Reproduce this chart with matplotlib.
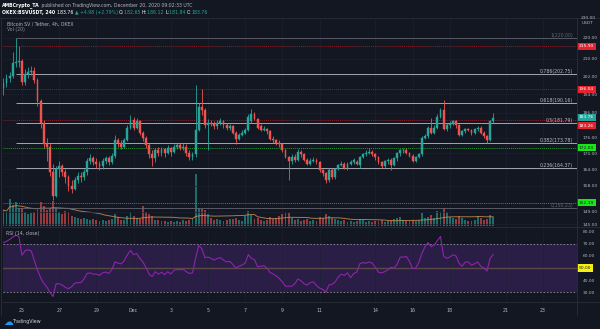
import matplotlib
matplotlib.use("Agg")
import matplotlib.pyplot as plt
import matplotlib.dates as mdates
import matplotlib.transforms as mtransforms
from matplotlib.lines import Line2D
from matplotlib.ticker import FixedLocator, FixedFormatter, NullLocator
import numpy as np
import pandas as pd

# ---- donnees : BSV/USDT 4h OKEX, 24 nov -> 20 dec 2020 ----
opens = [196.5, 199, 201, 202, 208, 208.5, 209, 199.5, 203, 204,
         204.5, 200, 191, 182, 173.5, 172.5, 163, 154.5, 164, 165,
         163, 161, 158, 157, 160, 161.5, 161, 163, 167, 168,
         166.5, 166, 165, 167, 168, 166.5, 169, 175, 174, 172.5,
         175, 180, 183, 180, 182.5, 178, 176, 173, 169.5, 168,
         171, 170, 171.5, 170, 172, 170.5, 172.5, 173, 172, 172.5,
         170, 168.5, 169.5, 179, 188.5, 187, 181, 182, 181.5, 180.5,
         182, 182.5, 181, 180, 180.5, 178, 175.5, 177, 178, 179,
         182.5, 185.5, 183.5, 180.5, 179, 179.5, 178.5, 175.5, 175, 174,
         173.5, 171, 168.5, 167, 168.5, 167.5, 170.5, 169.5, 167.5, 166,
         167, 167.5, 166.5, 163.5, 162.5, 160, 163.5, 161, 164, 165.5,
         166, 164.5, 166, 166.5, 166.5, 165.5, 168.5, 169.5, 170, 170.5,
         169.5, 168.5, 166.5, 165, 167, 167.5, 165.5, 168, 170, 171,
         171.3, 170, 169, 167, 168.5, 169.5, 176, 176.5, 180, 178,
         180, 184.5, 187, 179.5, 181, 181.5, 182.5, 181, 177, 178.5,
         179.5, 179, 178, 179.5, 180, 178, 176.5, 175, 182.65]
highs = [201, 203, 204, 213, 220, 216, 210, 205, 206, 206.5,
         206, 201, 192, 183, 176, 174, 166, 165, 167, 166,
         164, 162, 160, 161, 163, 163, 164, 168, 169.5, 169,
         168, 167, 168, 169, 169, 170, 177, 176, 175, 176,
         181, 185, 184.5, 184, 183, 178.5, 176.5, 174, 171, 172,
         172.5, 172.5, 172, 173, 172.5, 173.5, 174, 174, 174, 173.5,
         171, 170.5, 198, 190, 196, 188, 183.5, 183, 182.5, 183,
         184, 183, 182, 181.5, 181, 178.5, 178, 179, 180, 185.5,
         187.5, 186.5, 184, 181.5, 180.5, 180, 179, 176.5, 175.5, 175,
         174, 171.5, 169, 169.5, 169.5, 171.5, 171, 170, 168, 168,
         168.5, 168, 167, 164, 163, 164.5, 164.5, 164.5, 166, 167,
         166.5, 166.5, 167.5, 168, 167.5, 169, 170, 171, 172, 171,
         170, 169, 167, 167.5, 168, 168, 168.5, 170.5, 171.5, 172,
         172, 170.5, 169.5, 169, 170, 176.5, 177.5, 180.5, 184, 181,
         185.5, 188, 191.5, 182, 182.5, 183, 183, 181.5, 179, 180,
         180, 179.5, 180, 180.5, 180.5, 178.5, 177, 183, 186.12]
lows = [193.5, 197, 199.5, 201, 206, 206, 198, 198, 201, 202.5,
        199, 189, 180, 172, 167, 161.5, 153, 154, 161, 161.5,
        159, 156, 155.5, 156.5, 159, 159.5, 160, 162, 166, 165.5,
        164.5, 163.5, 164, 166, 165.5, 166, 168, 172.5, 171.5, 172,
        174.5, 179.5, 179, 179.5, 177, 174.5, 172, 168, 165, 166.5,
        169, 169, 168.5, 169.5, 169, 170, 171.5, 171, 171, 169,
        167.5, 167.5, 168.5, 178.5, 185, 180, 171, 180.5, 179.5, 179.5,
        181, 180, 179, 179, 177.5, 173.5, 175, 176.5, 177.5, 178.5,
        182, 183, 179.5, 178.5, 178.5, 177.5, 175, 174, 173, 172.5,
        170.5, 168, 160, 166, 166.5, 167, 168.5, 167, 165.5, 165.5,
        166.5, 166, 163, 161.5, 159, 159.5, 160.5, 160.5, 163.5, 165,
        164, 163.5, 165.5, 166, 165.5, 164.5, 168, 169, 169.5, 169,
        167.5, 166, 164.5, 164.5, 166, 163.5, 165, 167, 169, 170,
        169.5, 168.5, 166.5, 166.5, 168, 169, 175.5, 176, 177.5, 177.5,
        179.5, 184, 179, 178.5, 180, 181, 180, 176.5, 176.5, 178,
        178.5, 177, 177.5, 178.5, 177.5, 176, 174, 174.5, 181.84]
closes = [199, 201, 202, 208, 208.5, 209, 199.5, 203, 204, 204.5,
          200, 191, 182, 173.5, 172.5, 163, 154.5, 164, 165, 163,
          161, 158, 157, 160, 161.5, 161, 163, 167, 168, 166.5,
          166, 165, 167, 168, 166.5, 169, 175, 174, 172.5, 175,
          180, 183, 180, 182.5, 178, 176, 173, 169.5, 168, 171,
          170, 171.5, 170, 172, 170.5, 172.5, 173, 172, 172.5, 170,
          168.5, 169.5, 179, 188.5, 187, 181, 182, 181.5, 180.5, 182,
          182.5, 181, 180, 180.5, 178, 175.5, 177, 178, 179, 184.5,
          185.5, 183.5, 180, 179, 179.5, 178.5, 175.5, 175, 174, 173.5,
          171, 168.5, 167, 168.5, 167.5, 170.5, 169.5, 167.5, 166, 167,
          167.5, 166.5, 163.5, 162.5, 160, 163.5, 161, 164, 165.5, 166,
          164.5, 166, 166.5, 167.5, 166, 168.5, 169.5, 170, 170.5, 169.5,
          168.5, 166.5, 165, 167, 167.5, 165.5, 168, 170, 171, 171.3,
          170, 169, 167, 168.5, 169.5, 176, 176.5, 180, 178, 180,
          184.5, 187, 179.5, 181, 181.5, 182.5, 181, 177, 178.5, 179.5,
          179, 178, 179.5, 180, 178, 176.5, 175, 182.6, 183.76]
volumes = [16, 14, 27, 21, 24, 18, 18, 14, 12, 13,
           14, 16, 24, 20, 16, 18, 25, 18, 14, 12,
           15, 14, 10, 9, 8, 7, 8, 7, 6, 7,
           6, 5, 6, 5, 6, 7, 12, 9, 6, 6,
           10, 14, 10, 8, 7, 20, 14, 12, 10, 6,
           6, 5, 5, 4, 5, 4, 5, 4, 6, 5,
           6, 7, 52, 18, 17, 16, 12, 8, 6, 7,
           6, 5, 6, 7, 7, 8, 6, 5, 10, 15,
           11, 7, 8, 6, 5, 6, 9, 7, 8, 10,
           12, 13, 13, 8, 6, 7, 5, 6, 7, 5,
           6, 5, 9, 8, 12, 10, 8, 7, 6, 5,
           6, 4, 5, 4, 5, 7, 6, 4, 5, 4,
           5, 5, 6, 4, 5, 6, 7, 8, 9, 6,
           5, 5, 6, 5, 6, 13, 8, 9, 11, 8,
           15, 14, 18, 14, 9, 8, 7, 10, 8, 6,
           5, 5, 6, 10, 8, 6, 7, 11, 9]
rsi = [71, 72, 73.5, 75.5, 77, 76, 60.5, 64.4, 65, 64,
       56, 48.5, 42, 37.5, 34.5, 30, 26.5, 37, 37, 36,
       34, 33, 34.5, 37.5, 38, 38, 41, 45.5, 46, 45,
       45, 44, 46, 46.7, 45.5, 48.7, 55, 54, 53.5, 56,
       61, 64.5, 61, 62, 58, 55, 50.5, 45, 43, 47,
       45, 46.5, 44.5, 47, 45, 48, 49, 48.5, 49, 47,
       45.5, 46, 58, 68.5, 66, 58.5, 59, 58, 56.5, 58,
       58.5, 56.5, 55, 55.5, 53, 50, 51.5, 52.5, 54, 61,
       58, 57, 51, 51.5, 52, 50, 46.5, 45, 43.5, 41.4,
       38.5, 35, 35, 35, 37, 41, 39.5, 37, 36, 38,
       38.6, 35.5, 33.5, 32.5, 30, 36, 36.5, 38.5, 42.5, 45,
       44, 46, 42, 45.4, 46.7, 53.5, 54.5, 54, 55, 54,
       50.5, 46.5, 46, 47, 48.5, 50.5, 50, 53, 59, 59,
       59.5, 55.5, 49.5, 50, 54.5, 62, 67.5, 71, 67.5, 69,
       72.5, 76, 60, 58, 59, 61, 60, 54, 51.5, 55,
       54.9, 52.3, 53.5, 55, 51.5, 50, 47.5, 58, 61]

fib_ratios = ["1", "0.786", "0.618", "0.5", "0.382", "0.236", "0"]
fib_prices = [220.00, 202.75, 190.16, 181.79, 173.78, 164.37, 150.23]
red_levels = [215.90, 196.04, 183.26]
green_levels = [172.03, 152.19]
last_price = 183.76

price_ticks = [220, 210, 202, 194, 186, 176, 170, 164, 158, 149, 145]
rsi_ticks = [80, 70, 60, 40, 30]
date_ticks = ["2020-11-25", "2020-11-27", "2020-11-29", "2020-12-01", "2020-12-03",
              "2020-12-05", "2020-12-07", "2020-12-09", "2020-12-11", "2020-12-14",
              "2020-12-16", "2020-12-18", "2020-12-21", "2020-12-23"]
date_labels = ["25", "27", "29", "Dec", "3", "5", "7", "9", "11", "14", "16", "18", "21", "23"]

# ---- couleurs ----
BG = "#131722"
UP = "#26a69a"
DOWN = "#ef5350"
TXT = "#b2b5be"
GRID = "#1c2130"
SEP = "#2a2e39"

W, H = 600, 329
def rect(x0, y0, x1, y1):
    return [x0 / W, 1 - y1 / H, (x1 - x0) / W, (y1 - y0) / H]

times = pd.date_range("2020-11-24 00:00", periods=len(closes), freq="4h")
x = mdates.date2num(times)
bar_w = 4 / 24 * 0.62
o = np.array(opens); c = np.array(closes)
cols = [UP if cc >= oo else DOWN for oo, cc in zip(o, c)]
xmin = mdates.date2num(pd.Timestamp("2020-11-23 23:30"))
xmax = mdates.date2num(pd.Timestamp("2020-12-24 20:10"))

fig = plt.figure(figsize=(6, 3.29), dpi=100, facecolor=BG)

# volume (dessous)
axv = fig.add_axes(rect(3, 19, 577, 226), facecolor=BG)
axv.bar(x, volumes, width=bar_w, color=cols, alpha=0.6, linewidth=0)
vol_ma = pd.Series(volumes).rolling(20, min_periods=1).mean()
axv.plot(x, vol_ma, color="#c28a52", lw=0.7, alpha=0.85)
axv.set_ylim(0, 207)
axv.set_xlim(xmin, xmax)
axv.axis("off")

# prix
ax = fig.add_axes(rect(3, 19, 577, 226), facecolor="none", sharex=axv)
ax.set_yscale("log")
ax.set_ylim(144.4, 229.5)
for xx in mdates.date2num(pd.to_datetime(date_ticks)):
    axv.axvline(xx, color=GRID, lw=0.5, zorder=0)
for p in price_ticks:
    ax.axhline(p, color=GRID, lw=0.5, zorder=0)

ax.vlines(x, lows, highs, colors=cols, lw=0.6, zorder=3)
ax.bar(x, np.abs(c - o), bottom=np.minimum(o, c), width=bar_w, color=cols,
       edgecolor=cols, linewidth=0.3, zorder=4)

# niveaux
for p in red_levels:
    ax.axhline(p, color="#8c1c24", lw=0.7, ls=(0, (1, 1)), zorder=2)
for p in green_levels:
    ax.axhline(p, color="#1f9e2c", lw=0.7, ls=(0, (1, 1)), zorder=2)
for r, p in zip(fib_ratios, fib_prices):
    dim = r in ("0", "1")
    col = "#62656f" if dim else "#b9bcc5"
    ax.hlines(p, x[4], xmax, colors=col, lw=0.6, zorder=2)
    ax.annotate(f"{r}({p:.2f})", xy=(573, 0), xycoords=("figure pixels", "data"),
                xytext=(573, p), textcoords=("figure pixels", "data"),
                ha="right", va="bottom", fontsize=3.3, color=col, zorder=5)

ax.yaxis.tick_right()
ax.yaxis.set_major_locator(FixedLocator(price_ticks))
ax.yaxis.set_major_formatter(FixedFormatter([f"{p:.2f}" for p in price_ticks]))
ax.yaxis.set_minor_locator(NullLocator())
ax.tick_params(axis="y", length=0, pad=4, labelsize=3.2, labelcolor=TXT)
ax.tick_params(axis="x", length=0, labelbottom=False)
for s in ax.spines.values():
    s.set_visible(False)

trans = mtransforms.blended_transform_factory(fig.transFigure, ax.transData)
def price_box(val, fc, tc, dy=0):
    ax.annotate(f"{val:.2f}", xy=(579 / W, val), xycoords=trans,
                xytext=(0, dy), textcoords="offset pixels",
                ha="left", va="center", fontsize=3.2, color=tc,
                bbox=dict(boxstyle="square,pad=0.35", fc=fc, ec="none"),
                annotation_clip=False, zorder=10)

price_box(215.90, "#e5232f", "white")
price_box(196.04, "#e5232f", "white")
price_box(last_price, UP, "white", dy=1)
price_box(183.26, "#e5232f", "white", dy=-6)
price_box(172.03, "#19e619", "#131722")
price_box(152.19, "#19e619", "#131722")

fig.text(588 / W, 1 - 18 / H, "230.00", fontsize=3.2, color=TXT, ha="center", va="center")
fig.text(588 / W, 1 - 23 / H, "USDT", fontsize=3.2, color=TXT, ha="center", va="center")

# RSI
ar = fig.add_axes(rect(3, 228, 577, 302), facecolor=BG, sharex=axv)
ar.set_ylim(22, 83)
ar.axhspan(30, 70, color="#2a1e47", lw=0, zorder=0)
for xx in mdates.date2num(pd.to_datetime(date_ticks)):
    ar.axvline(xx, color=GRID, lw=0.5, zorder=0.5, alpha=0.8)
ar.axhline(70, color="#8a8d98", lw=0.6, ls=(0, (2, 2)), zorder=1)
ar.axhline(30, color="#8a8d98", lw=0.6, ls=(0, (2, 2)), zorder=1)
ar.axhline(50, color="#5a4747", lw=1.0, zorder=1)
ar.plot(x, rsi, color="#8e24aa", lw=0.8, zorder=3)
ar.yaxis.tick_right()
ar.yaxis.set_major_locator(FixedLocator(rsi_ticks))
ar.yaxis.set_major_formatter(FixedFormatter([f"{v:.2f}" for v in rsi_ticks]))
ar.tick_params(axis="y", length=0, pad=4, labelsize=3.2, labelcolor=TXT)
ar.xaxis.set_major_locator(FixedLocator(mdates.date2num(pd.to_datetime(date_ticks))))
ar.xaxis.set_major_formatter(FixedFormatter(date_labels))
ar.tick_params(axis="x", length=0, pad=4.5, labelsize=3.4, labelcolor=TXT)
for s in ar.spines.values():
    s.set_visible(False)
tr = mtransforms.blended_transform_factory(fig.transFigure, ar.transData)
ar.annotate("50.00", xy=(579 / W, 50), xycoords=tr, ha="left", va="center",
            fontsize=3.2, color="#131722",
            bbox=dict(boxstyle="square,pad=0.35", fc="#f5f014", ec="none"),
            annotation_clip=False, zorder=10)
ar.set_xlim(xmin, xmax)

# separateurs
for (x0, y0, x1, y1) in [(0, 18, 600, 18), (3, 227, 600, 227), (3, 302, 600, 302),
                         (577, 18, 577, 315), (1, 18, 1, 315)]:
    fig.add_artist(Line2D([x0 / W, x1 / W], [1 - y0 / H, 1 - y1 / H],
                          color=SEP, lw=0.6, transform=fig.transFigure))

# textes
renderer = fig.canvas.get_renderer()
def seq_text(x0, y0, parts, size):
    xx = x0
    for s, col, w in parts:
        t = fig.text(xx / W, 1 - y0 / H, s, color=col, fontsize=size,
                     fontweight=w, ha="left", va="center")
        xx += t.get_window_extent(renderer).width

seq_text(2, 5, [("AMBCrypto_TA", "white", "bold"),
                (" published on TradingView.com, December 20, 2020 09:02:33 UTC", TXT, "normal")], 3.3)
seq_text(2, 12.5, [("OKEX:BSVUSDT, 240 ", "white", "bold"), ("183.76 ", "white", "normal"),
                   ("\u25b2 +4.98 (+2.79%) ", UP, "normal"),
                   ("O:", "white", "normal"), ("182.65 ", UP, "normal"),
                   ("H:", "white", "normal"), ("186.12 ", UP, "normal"),
                   ("L:", "white", "normal"), ("181.84 ", UP, "normal"),
                   ("C:", "white", "normal"), ("183.76", UP, "normal")], 3.3)
fig.text(7 / W, 1 - 24.5 / H, "Bitcoin SV / Tether, 4h, OKEX", fontsize=3.3, color=TXT, va="center")
fig.text(7 / W, 1 - 30 / H, "Vol (20)", fontsize=3.3, color="#8a8d98", va="center")
fig.text(6 / W, 1 - 233 / H, "RSI (14, close)", fontsize=3.3, color=TXT, va="center")
fig.text(3 / W, 1 - 322 / H, "\u2601", fontsize=7, color="#2196f3", va="center")
fig.text(13 / W, 1 - 322 / H, "TradingView", fontsize=3.4, color="#d1d4dc", va="center")

fig.savefig("out.png", dpi=100, facecolor=BG)
